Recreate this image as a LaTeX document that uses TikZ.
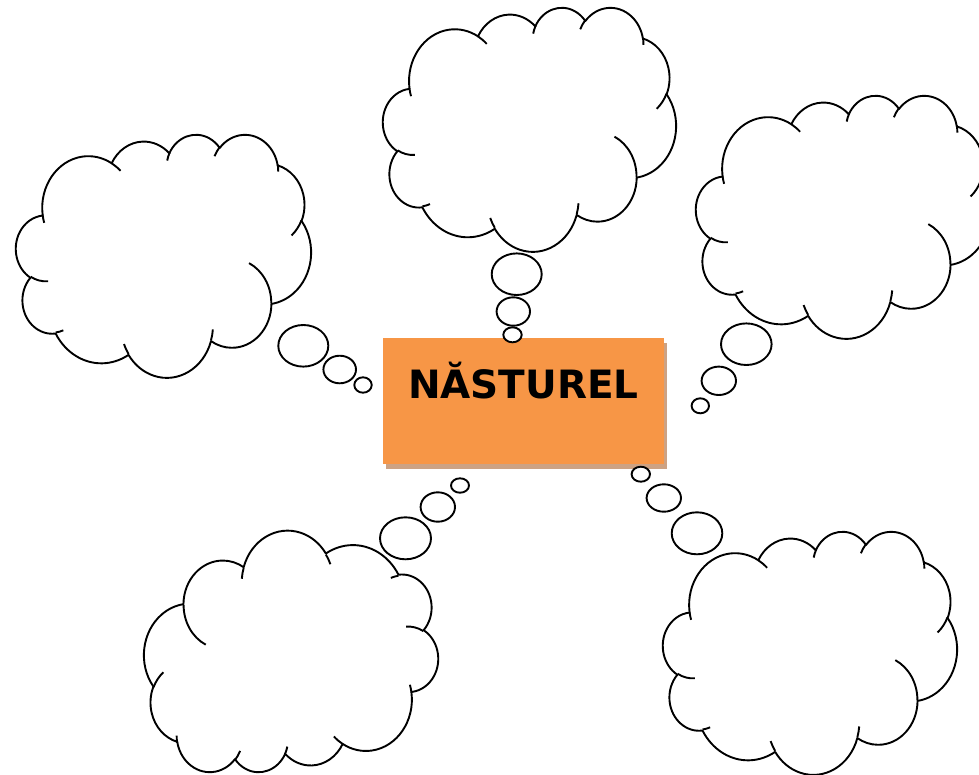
\documentclass[tikz,border=0pt]{standalone}
\usepackage{fontspec}
\usepackage{tikz}
\usetikzlibrary{positioning,shadows}
\newfontfamily\labelfont{DejaVu Sans}
\definecolor{boxorange}{HTML}{F79646}
\definecolor{shadowtan}{HTML}{CDA283}

% one puff of the cloud: x radius, y radius, start angle, sweep (angles as seen)
\newcommand{\puffarc}[4]{%
  \pgfextra{%
    \pgfmathparse{atan2((#1)*sin(#3),(#2)*cos(#3))}\xdef\puffa{\pgfmathresult}%
    \pgfmathparse{atan2((#1)*sin((#3)+(#4)),(#2)*cos((#3)+(#4)))}\xdef\puffb{\pgfmathresult}%
    \pgfmathparse{mod(\puffb-\puffa+720,360)}\xdef\puffd{\pgfmathresult}%
  }%
  arc[start angle=\puffa, delta angle=\puffd, x radius=#1pt, y radius=#2pt]%
}

% cloud outline in a 100 x 100 box
\newcommand{\cloudpath}{%
  (9.0278,33.2639)
  \puffarc{15.6319}{21.2731}{-190.4875}{123.7805}
  \puffarc{12.3449}{16.8218}{-144.1024}{89.9452}
  \puffarc{10.1042}{13.7616}{-145.8079}{99.7230}
  \puffarc{11.2431}{15.2662}{-130.9861}{117.2417}
  \puffarc{12.3449}{16.8356}{-78.7089}{109.0269}
  \puffarc{15.6829}{21.3426}{-46.2673}{130.2690}
  \puffarc{13.3912}{18.2106}{0.6250}{114.0333}
  \puffarc{15.6296}{21.3310}{22.4516}{115.1726}
  \puffarc{17.8704}{24.4051}{66.2426}{75.7110}
  \puffarc{10.0926}{13.6991}{-274.9421}{146.7356}
  \puffarc{10.0579}{13.7616}{-246.8285}{152.5189}
  -- cycle}

% the short inner strokes where the puffs meet
\newcommand{\cloudhooks}{%
  (10.8634,60.5949) \puffarc{10.0579}{13.7616}{86.7420}{26.4295}
  (16.0370,80.7847) \puffarc{10.0926}{13.6991}{73.6105}{11.4475}
  (38.1435,90.4861) \puffarc{15.6296}{21.3310}{137.6242}{14.0811}
  (66.7292,80.4421) \puffarc{15.6296}{21.3310}{6.4533}{15.9984}
  (79.0023,53.1343) \puffarc{13.3912}{18.2106}{-70.2924}{70.9174}
  (96.7546,35.5417) \puffarc{12.3449}{16.8356}{30.3180}{27.7515}
  (88.7130,12.5602) \puffarc{11.2431}{15.2662}{-13.7443}{14.8589}
  (67.3102,9.1481) \puffarc{11.2431}{15.2662}{-149.1815}{18.1954}
  (51.2523,10.9259) \puffarc{10.1042}{13.7616}{-163.4943}{17.6864}
  (32.4074,12.0185) \puffarc{15.6319}{21.2731}{-66.7070}{12.3194}
  (9.5532,36.5486) \puffarc{15.6319}{21.2731}{157.6544}{11.8582}}

\begin{document}
\begin{tikzpicture}[
    x=1pt, y=-1pt,
    cloudline/.style={draw=black, line width=1.9pt, line join=round},
    bubble/.style={draw=black, fill=white, line width=1.9pt},
    cloudbox/.style n args={4}{shift={(#1,#2)}, x=1pt, y=1pt, xscale=#3/100, yscale=-#4/100},
    cloudturn/.style n args={4}{shift={(#1+#3,#2+#4)}, x=1pt, y=1pt, xscale=-#3/100, yscale=#4/100},
]
\useasboundingbox (0,0) rectangle (979,774);
\clip (0,0) rectangle (979,774);

% ============================================================
% CLOUDS
% ============================================================
% top left
\begin{scope}[cloudbox={16}{134}{295}{243}]
    \draw[cloudline, fill=white] \cloudpath;
    \draw[cloudline] \cloudhooks;
\end{scope}

% top middle
\begin{scope}[cloudbox={383}{7}{293}{244}]
    \draw[cloudline, fill=white] \cloudpath;
    \draw[cloudline] \cloudhooks;
\end{scope}

% top right
\begin{scope}[cloudbox={696}{95}{294}{243}]
    \draw[cloudline, fill=white] \cloudpath;
    \draw[cloudline] \cloudhooks;
\end{scope}

% bottom right
\begin{scope}[cloudbox={663}{531}{294}{243}]
    \draw[cloudline, fill=white] \cloudpath;
    \draw[cloudline] \cloudhooks;
\end{scope}

% bottom left (turned round)
\begin{scope}[cloudturn={144}{531.5}{294}{241.5}]
    \draw[cloudline, fill=white] \cloudpath;
    \draw[cloudline] \cloudhooks;
\end{scope}

% ============================================================
% CENTRE BOX
% ============================================================
\node[fill=boxorange, minimum width=281.3pt, minimum height=126.3pt, inner sep=0pt,
      general shadow={fill=shadowtan, shadow xshift=3.3pt, shadow yshift=-5pt}] (box) at (523.35,400.85) {};
\node[font=\labelfont\bfseries\fontsize{39}{42}\selectfont, anchor=base, inner sep=0pt]
      (title) at ([yshift=-60.6pt]box.north) {NĂSTUREL};

% ============================================================
% BUBBLES
% ============================================================
\foreach \bx/\by/\brx/\bry in {
    303.3/345.8/25pt/20.8pt, 339.7/369.5/16.3pt/13.8pt, 363/385/8.7pt/7.7pt,
    516.7/274.2/25pt/20.8pt, 513.3/311.5/16.7pt/14.2pt, 512.5/334.8/9.2pt/7.5pt,
    746.3/344.2/25.3pt/20.8pt, 718.8/380.8/17.2pt/14.2pt, 700.3/405.8/8.7pt/7.5pt,
    697/533.3/25.3pt/21pt, 663.8/498/17.2pt/13.7pt, 640.8/474.2/9.2pt/7.5pt,
    405.5/538.3/25.5pt/21pt, 437.8/507/17.2pt/14.7pt, 460/485.5/9pt/7.2pt}
    \draw[bubble] (\bx,\by) ellipse [x radius=\brx, y radius=\bry];

\end{tikzpicture}
\end{document}
